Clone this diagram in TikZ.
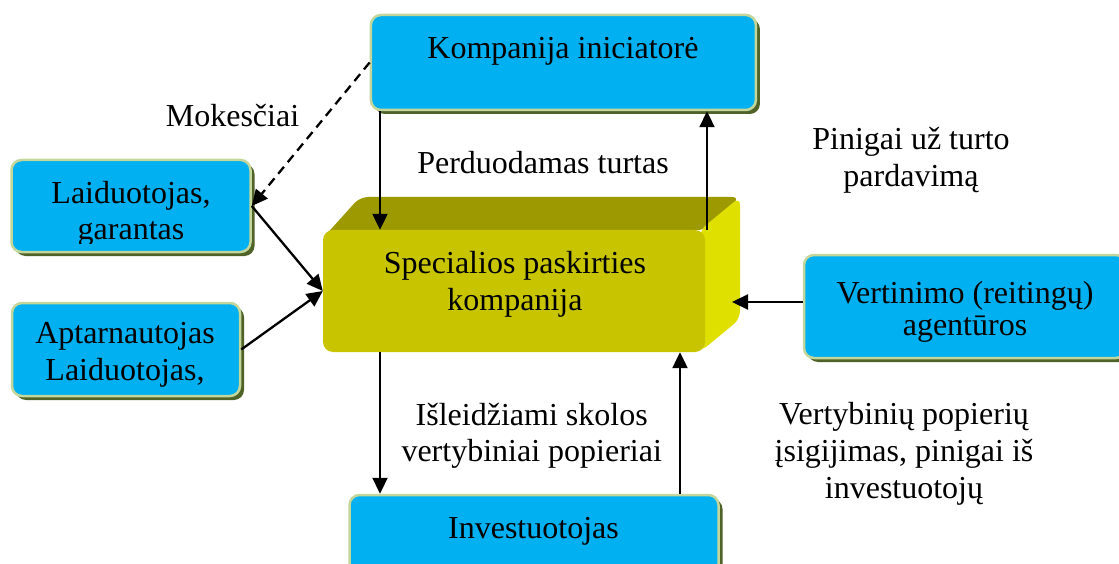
\documentclass[tikz,border=0pt]{standalone}
\usepackage{fontspec}
\setmainfont{Liberation Serif}
\usetikzlibrary{arrows.meta,shadows}

\definecolor{boxblue}{HTML}{00B0F0}
\definecolor{boxrim}{HTML}{C3D69B}
\definecolor{boxshade}{HTML}{4F6228}
\definecolor{spvfront}{HTML}{C8C400}
\definecolor{spvtop}{HTML}{9C9A00}
\definecolor{spvside}{HTML}{E0E000}

\tikzset{
  party/.style={rectangle, rounded corners=10pt, fill=boxblue, draw=boxrim,
    line width=2.5pt, inner sep=0pt,
    drop shadow={shadow xshift=4pt, shadow yshift=-4pt, fill=boxshade, opacity=1}},
  txt/.style={font=\fontsize{32}{36.7}\selectfont, align=center, inner sep=0pt, anchor=base},
  flow/.style={line width=2.3pt, -{Triangle[length=16pt,width=15pt]}},
  fee/.style={flow, dash pattern=on 9pt off 6pt}
}

\begin{document}
\begin{tikzpicture}[x=1pt,y=-1pt]
\useasboundingbox (0,0) rectangle (1119,564);
\clip (0,0) rectangle (1119,564);

% participants
\node[party, minimum width=385pt, minimum height=95pt] (kom) at (563.4,62.5) {};
\node[party, minimum width=239pt, minimum height=92pt] (lai) at (131,206) {};
\node[party, minimum width=228pt, minimum height=93pt] (apt) at (126,349.5) {};
\node[party, minimum width=322pt, minimum height=103pt] (ver) at (965,306.5) {};
\node[party, minimum width=369pt, minimum height=95pt] (inv) at (534,542.5) {};

% special purpose company drawn as a block
\fill[spvtop, rounded corners=8pt] (323,238) -- (360,197) -- (740,197) -- (705,230) -- cycle;
\fill[spvside, rounded corners=8pt] (700,230) -- (740,197) -- (740,319) -- (700,352) -- cycle;
\node[rectangle, rounded corners=10pt, fill=spvfront, minimum width=382pt,
      minimum height=122pt, inner sep=0pt] (spv) at (514,291) {};
\coordinate (side) at (732,302);

% texts inside the boxes (anchored on the baseline of the last line)
\node[txt] at (563,58.3) {Kompanija iniciatorė};
\begin{scope}
  \clip (lai.north west) rectangle ([yshift=10pt]lai.south east);
  \node[txt] at (131,240) {Laiduotojas,\\garantas};
\end{scope}
\node[txt] at (125,380) {Aptarnautojas\\Laiduotojas,};
\node[txt] at (515,310) {Specialios paskirties\\kompanija};
\node[txt] at (965,335) {Vertinimo (reitingų)\\[-5pt]agentūros};
\node[txt] at (533.5,538.3) {Investuotojas};

% flow labels
\node[txt] at (232.5,126.7) {Mokesčiai};
\node[txt] at (543,173.3) {Perduodamas turtas};
\node[txt] at (911,186.7) {Pinigai už turto\\pardavimą};
\node[txt] at (531.7,461.7) {Išleidžiami skolos\\vertybiniai popieriai};
\node[txt] at (904,498) {Vertybinių popierių\\įsigijimas, pinigai iš\\investuotojų};

% connectors
\coordinate (xa) at (380,0);
\coordinate (xb) at (707,0);
\coordinate (xc) at (680,0);
\draw[flow] (kom.south -| xa) -- (spv.north -| xa);
\draw[flow] (spv.north -| xb) -- (kom.south -| xb);
\draw[fee] (kom.west) -- (lai.east);
\draw[flow] (lai.east) -- (spv.west);
\draw[flow] (apt.east) -- (spv.west);
\draw[flow] (ver.west |- side) -- (side);
\draw[flow] (spv.south -| xa) -- (inv.north -| xa);
\draw[flow] (inv.north -| xc) -- (spv.south -| xc);
\end{tikzpicture}
\end{document}
